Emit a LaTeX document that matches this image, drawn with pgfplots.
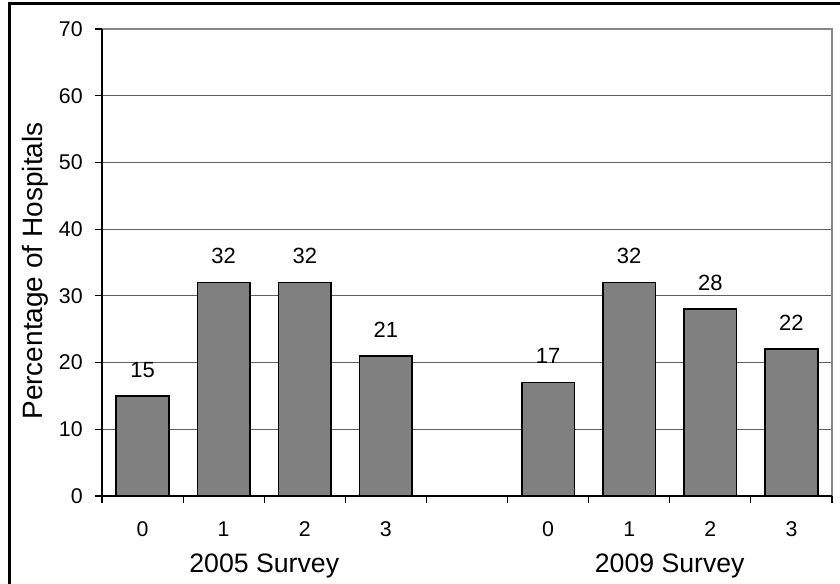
\documentclass[border=0pt]{standalone}
\usepackage{fontspec}
\setmainfont{Liberation Sans}
\usepackage{pgfplots}
\pgfplotsset{compat=1.18}
\definecolor{barfill}{RGB}{128,128,128}
\definecolor{gridline}{RGB}{95,95,95}
\definecolor{frameline}{RGB}{135,135,135}

\begin{document}
\begin{tikzpicture}
\useasboundingbox (0,0) rectangle (630pt,438pt);
% outer chart frame
\draw[line width=1.7pt] (7.1pt,-20pt) -- (7.1pt,435.4pt) -- (660pt,435.4pt);
\begin{axis}[
  at={(76.5pt,66pt)}, anchor=south west,
  scale only axis, width=547.5pt, height=350.25pt,
  xmin=-0.5, xmax=8.5, ymin=0, ymax=70,
  /pgf/number format/assume math mode=true,
  ytick={0,10,...,70},
  ymajorgrids,
  major grid style={gridline, line width=0.9pt},
  xtick={-0.5,0.5,...,8.5},
  xticklabels={},
  extra x ticks={0,1,2,3,5,6,7,8},
  extra x tick labels={0,1,2,3,0,1,2,3},
  extra x tick style={major tick length=0pt},
  xticklabel style={yshift=-16pt},
  yticklabel style={xshift=-6pt},
  xtick pos=bottom, ytick pos=left,
  tick align=outside,
  major tick length=5pt,
  tick style={black, line width=0.8pt},
  tick label style={font=\fontsize{16}{16}\selectfont},
  axis line style={draw=none},
  ybar, bar width=0.65,
  nodes near coords,
  every node near coord/.append style={font=\fontsize{16.5}{16.5}\selectfont, anchor=base, yshift=14pt},
  after end axis/.code={
    \draw[frameline, line width=1.4pt] (rel axis cs:0,1) -- (rel axis cs:1,1) -- (rel axis cs:1,0);
    \draw[black, line width=0.9pt] (rel axis cs:0,1) -- (rel axis cs:0,0) -- (rel axis cs:1,0);
  },
]
\addplot[draw=black, fill=barfill, line width=1.2pt] coordinates {
  (0,15) (1,32) (2,32) (3,21)
  (5,17) (6,32) (7,28) (8,22)
};
\end{axis}
\node[rotate=90, font=\fontsize{21}{21}\selectfont] at (26.25pt,234.75pt) {Percentage of Hospitals};
\node[anchor=base, font=\fontsize{20}{20}\selectfont] at (198.2pt,8.25pt) {2005 Survey};
\node[anchor=base, font=\fontsize{20}{20}\selectfont] at (502.3pt,8.25pt) {2009 Survey};
\end{tikzpicture}
\end{document}
